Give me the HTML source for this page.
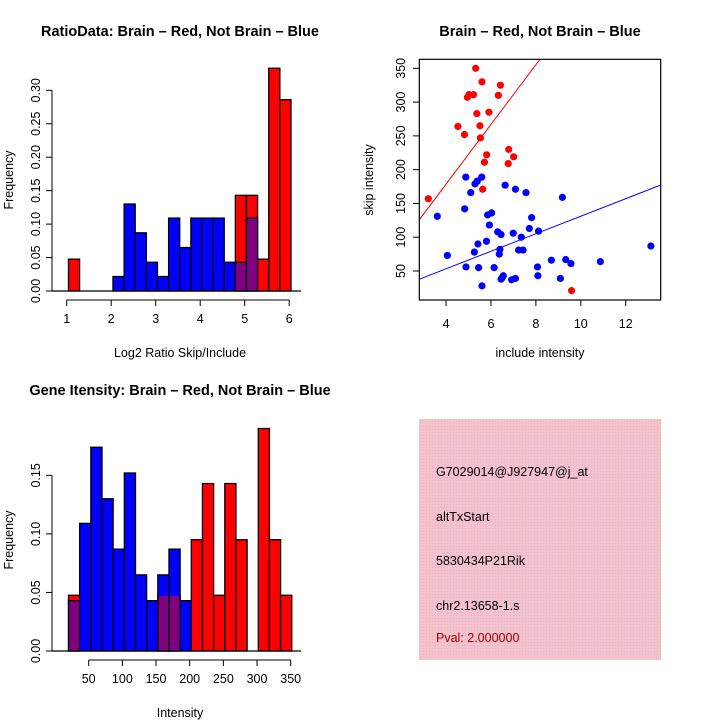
<!DOCTYPE html>
<html><head><meta charset="utf-8"><style>
body{margin:0;background:#fff;}
svg{display:block;font-family:"Liberation Sans",sans-serif;}
</style></head><body>
<svg id="svg" width="720" height="720" viewBox="0 0 720 720">
<defs>
<pattern id="hatch" width="3" height="3" patternUnits="userSpaceOnUse">
<rect width="3" height="3" fill="#f2c2cd"/><rect width="1" height="1" fill="#e8b0c0"/>
</pattern>
</defs>
<g id="p1"></g>
<g id="p2"></g>
<g id="p3"></g>
<g>
<rect x="419" y="419" width="242" height="241" fill="url(#hatch)"/>
<text x="436" y="476" font-size="12.5" fill="#000">G7029014@J927947@j_at</text>
<text x="436" y="521" font-size="12.5" fill="#000">altTxStart</text>
<text x="436" y="565" font-size="12.5" fill="#000">5830434P21Rik</text>
<text x="436" y="610" font-size="12.5" fill="#000">chr2.13658-1.s</text>
<text x="436" y="642" font-size="12.5" fill="#a00000">Pval: 2.000000</text>
</g>
<g>
<text x="180" y="36" font-size="14.5" font-weight="bold" text-anchor="middle">RatioData: Brain – Red, Not Brain – Blue</text>
<text x="540" y="36" font-size="14.5" font-weight="bold" text-anchor="middle">Brain – Red, Not Brain – Blue</text>
<text x="180" y="395" font-size="14.5" font-weight="bold" text-anchor="middle">Gene Itensity: Brain – Red, Not Brain – Blue</text>
<text x="180" y="357" font-size="12.5" text-anchor="middle">Log2 Ratio Skip/Include</text>
<text x="540" y="357" font-size="12.5" text-anchor="middle">include intensity</text>
<text x="180" y="717" font-size="12.5" text-anchor="middle">Intensity</text>
<text transform="translate(13 180) rotate(-90)" font-size="12.5" text-anchor="middle">Frequency</text>
<text transform="translate(373 180) rotate(-90)" font-size="12.5" text-anchor="middle">skip intensity</text>
<text transform="translate(13 540) rotate(-90)" font-size="12.5" text-anchor="middle">Frequency</text>
</g>
</svg>
<script>
// Plot 1 data
const ratioBinStart = 1.04, ratioBinWidth = 0.25;
const ratioRed = [0.0476,0,0,0,0,0,0,0,0,0,0,0,0,0,0,0.143,0.143,0.0476,0.333,0.286];
const ratioBlue = [0,0,0,0,0.0217,0.130,0.087,0.043,0.0217,0.109,0.065,0.109,0.109,0.109,0.043,0.043,0.109,0,0,0];
const ratioXTicks = [1,2,3,4,5,6];
const ratioYTicks = ["0.00","0.05","0.10","0.15","0.20","0.25","0.30"];
// Plot 2 data
const redX = [5.32,5.6,6.42,5.02,5.22,4.95,6.33,5.37,5.91,4.53,4.82,5.51,5.53,5.81,5.71,6.79,7.01,6.77,5.63,3.21,9.59];
const redY = [350,330,325,311,311,307,310,283,285,264,252,265,247,222,211,230,219,209,171,157,21];
const blueX = [4.88,5.29,5.39,5.59,6.63,7.09,7.56,5.1,9.18,3.61,4.83,5.85,6.03,5.93,7.81,7.71,8.12,6.3,6.45,6.99,7.35,5.42,5.8,13.12,6.4,7.23,7.43,6.37,4.06,5.26,8.69,9.33,9.56,10.87,4.89,5.45,6.14,8.07,8.09,6.55,6.45,6.92,7.09,9.09,5.6,6.5];
const blueY = [189,179,183,189,177,171,166,166,159,131,142,133,136,118,129,113,109,108,104,106,100,90,94,87,82,81,81,75,73,78,66,67,61,64,56,55,55,56,43,43,38,37,39,39,28,40];
const redFit = [1.7,44.2];
const blueFit = [1.4,12.97];
const scatXTicks = [4,6,8,10,12];
const scatYTicks = [50,100,150,200,250,300,350];
// Plot 3 data
const geneBinStart = 20, geneBinWidth = 16.58;
const geneRed = [0.0476,0,0,0,0,0,0,0,0.0476,0.0476,0,0.095,0.143,0.0476,0.143,0.095,0,0.190,0.095,0.0476];
const geneBlue = [0.043,0.109,0.174,0.130,0.087,0.152,0.065,0.043,0.065,0.087,0.043,0,0,0,0,0,0,0,0,0];
const geneXTicks = [50,100,150,200,250,300,350];
const geneYTicks = ["0.00","0.05","0.10","0.15"];

const NS="http://www.w3.org/2000/svg";
function mk(parent,tag,attrs){const e=document.createElementNS(NS,tag);for(const k in attrs)e.setAttribute(k,attrs[k]);parent.appendChild(e);return e;}

function hist(g,o){
  const sx=v=>o.x0+(v-o.xv0)*o.xs, sy=v=>o.y0-v*o.ys;
  for(let i=0;i<o.red.length;i++){
    const a=o.bs+i*o.bw,b=a+o.bw;
    const r=o.red[i],bl=o.blue[i];
    if(r>0){const e=mk(g,'rect',{x:sx(a),y:sy(r),width:sx(b)-sx(a),height:sy(0)-sy(r),fill:'#ff0000',stroke:'#000','stroke-width':1.3});
      }
    if(bl>0){const e=mk(g,'rect',{x:sx(a),y:sy(bl),width:sx(b)-sx(a),height:sy(0)-sy(bl),fill:'#0000ff',stroke:'#000','stroke-width':1.3});
      }
    if(r>0&&bl>0){const m=Math.min(r,bl);const e=mk(g,'rect',{x:sx(a)+0.7,y:sy(m)+0.7,width:sx(b)-sx(a)-1.4,height:sy(0)-sy(m)-1.4,fill:'#800080'});
      }
  }
  mk(g,'line',{x1:52,x2:301,y1:o.y0,y2:o.y0,stroke:'#000','stroke-width':1.3});
  const xa=mk(g,'g',{});
  mk(xa,'line',{x1:sx(o.xt[0]),x2:sx(o.xt[o.xt.length-1]),y1:o.y0+9,y2:o.y0+9,stroke:'#000'});
  o.xt.forEach(t=>{mk(xa,'line',{x1:sx(t),x2:sx(t),y1:o.y0+9,y2:o.y0+15,stroke:'#000'});
    const tx=mk(xa,'text',{x:sx(t),y:o.y0+32,'font-size':12.5,'text-anchor':'middle'});tx.textContent=t;});
  const ya=mk(g,'g',{});
  mk(ya,'line',{x1:52,x2:52,y1:sy(0),y2:sy(parseFloat(o.yt[o.yt.length-1])),stroke:'#000'});
  o.yt.forEach(t=>{const y=sy(parseFloat(t));mk(ya,'line',{x1:46,x2:52,y1:y,y2:y,stroke:'#000'});
    const tx=mk(ya,'text',{x:0,y:0,'font-size':12.5,'text-anchor':'middle',transform:`translate(40 ${y}) rotate(-90)`});tx.textContent=t;});
}

const p1=document.getElementById('p1');
hist(p1,{x0:66.7,xv0:1,xs:44.5,y0:291,ys:669,bs:ratioBinStart,bw:ratioBinWidth,red:ratioRed,blue:ratioBlue,xt:ratioXTicks,yt:ratioYTicks});
const p3=document.getElementById('p3');
hist(p3,{x0:88.7,xv0:50,xs:0.6733,y0:651,ys:1171,bs:geneBinStart,bw:geneBinWidth,red:geneRed,blue:geneBlue,xt:geneXTicks,yt:geneYTicks});

const p2=document.getElementById('p2');
const X=v=>356.2+v*22.46, Y=v=>304.8-v*0.6757;
const clip=mk(document.querySelector('defs'),'clipPath',{id:'sc'});mk(clip,'rect',{x:419.3,y:59.3,width:241.4,height:240.7});
const lines=mk(p2,'g',{'clip-path':'url(#sc)'});
[[redFit,'#ff0000','red-fit-line'],[blueFit,'#0000ff','blue-fit-line']].forEach(([f,c,n])=>{
  const e=mk(lines,'line',{x1:X(2.8),y1:Y(f[0]+f[1]*2.8),x2:X(13.6),y2:Y(f[0]+f[1]*13.6),stroke:c,'stroke-width':1});
  });
redX.forEach((v,i)=>{const e=mk(p2,'circle',{cx:X(v),cy:Y(redY[i]),r:3.6,fill:'#ff0000'});
  });
blueX.forEach((v,i)=>{const e=mk(p2,'circle',{cx:X(v),cy:Y(blueY[i]),r:3.6,fill:'#0000ff'});
  });
const box=mk(p2,'rect',{x:419.3,y:59.3,width:241.4,height:240.7,fill:'none',stroke:'#000','stroke-width':1.2});

scatXTicks.forEach(t=>{mk(p2,'line',{x1:X(t),x2:X(t),y1:300,y2:306,stroke:'#000'});
  const tx=mk(p2,'text',{x:X(t),y:328,'font-size':12.5,'text-anchor':'middle'});tx.textContent=t;
  });
scatYTicks.forEach(t=>{mk(p2,'line',{x1:413,x2:419.3,y1:Y(t),y2:Y(t),stroke:'#000'});
  const tx=mk(p2,'text',{x:0,y:0,'font-size':12.5,'text-anchor':'middle',transform:`translate(405 ${Y(t)}) rotate(-90)`});tx.textContent=t;
  });
</script>
</body></html>
